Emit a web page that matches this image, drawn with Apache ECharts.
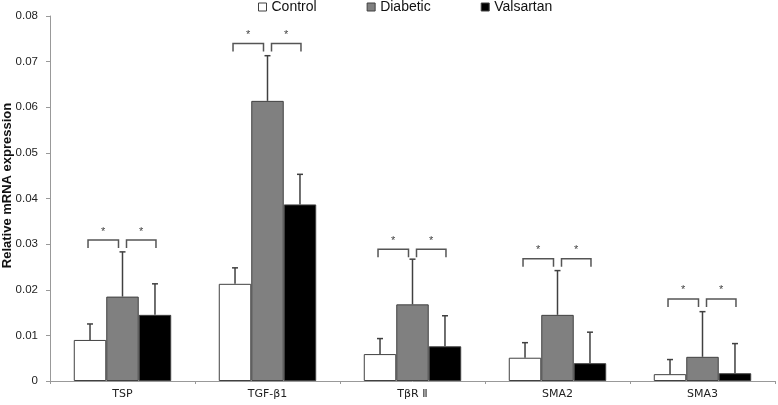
<!DOCTYPE html>
<html>
<head>
<meta charset="utf-8">
<script src="https://cdn.jsdelivr.net/npm/echarts@6/dist/echarts.min.js"></script>
<style>
  html, body { margin: 0; padding: 0; background: #fff; }
  #chart { width: 778px; height: 405px; }
</style>
</head>
<body>
<div id="chart"></div>
<script>
// 数据
const categories = ["TSP", "TGF-β1", "TβR Ⅱ", "SMA2", "SMA3"];
const groupNames = ["Control", "Diabetic", "Valsartan"];
const controlMean = [0.0090, 0.0213, 0.0059, 0.0051, 0.0015];
const controlUpper = [0.0125, 0.0248, 0.0093, 0.0084, 0.0047];
const diabeticMean = [0.0185, 0.0614, 0.0168, 0.0145, 0.0053];
const diabeticUpper = [0.0283, 0.0713, 0.0267, 0.0242, 0.0152];
const valsartanMean = [0.0145, 0.0387, 0.0076, 0.0039, 0.0017];
const valsartanUpper = [0.0213, 0.0453, 0.0143, 0.0107, 0.0082];
// 显著性括号的高度
const bracketLevel = [0.0309, 0.0740, 0.0289, 0.0268, 0.0180];

const fillColors = ["#ffffff", "#808080", "#000000"];
const edge = "#404040";
const barFrac = 0.224;

const chart = echarts.init(document.getElementById("chart"), null, { renderer: "canvas" });

const means = [controlMean, diabeticMean, valsartanMean];
const uppers = [controlUpper, diabeticUpper, valsartanUpper];

// 误差线数据: [类目, 组, 均值, 上限]
const errData = [];
for (let g = 0; g < 3; g++) {
  for (let i = 0; i < categories.length; i++) {
    errData.push([i, g, means[g][i], uppers[g][i]]);
  }
}

function barCenter(api, cat, g) {
  const c = api.coord([cat, 0])[0];
  const bw = api.size([1, 0])[0] * barFrac;
  return c + (g - 1) * bw;
}

const barSeries = groupNames.map((name, g) => ({
  name: name,
  type: "bar",
  data: means[g],
  barWidth: (barFrac * 100) + "%",
  barGap: "0%",
  itemStyle: { color: fillColors[g], borderColor: edge, borderWidth: 1 },
  z: 2
}));

const errSeries = {
  type: "custom",
  data: errData,
  z: 3,
  renderItem: function (params, api) {
    const x = barCenter(api, api.value(0), api.value(1));
    const y0 = api.coord([api.value(0), api.value(2)])[1];
    const y1 = api.coord([api.value(0), api.value(3)])[1];
    const st = { stroke: edge, lineWidth: 1.5 };
    return {
      type: "group",
      children: [
        { type: "line", shape: { x1: x, y1: y0, x2: x, y2: y1 }, style: st },
        { type: "line", shape: { x1: x - 3, y1: y1, x2: x + 3, y2: y1 }, style: st }
      ]
    };
  }
};

const bracketSeries = {
  type: "custom",
  data: bracketLevel.map((v, i) => [i, v]),
  z: 4,
  renderItem: function (params, api) {
    const cat = api.value(0);
    const y = api.coord([cat, api.value(1)])[1];
    const c0 = barCenter(api, cat, 0);
    const c1 = barCenter(api, cat, 1);
    const c2 = barCenter(api, cat, 2);
    const st = { stroke: "#555", lineWidth: 1.5, fill: null };
    const drop = 8;
    const spans = [[c0 - 2, c1 - 4], [c1 + 4, c2 + 1]];
    const kids = [];
    spans.forEach(s => {
      kids.push({
        type: "polyline",
        shape: { points: [[s[0], y + drop], [s[0], y], [s[1], y], [s[1], y + drop]] },
        style: st
      });
      kids.push({
        type: "text",
        style: {
          text: "*", x: (s[0] + s[1]) / 2, y: y - 3,
          align: "center", verticalAlign: "bottom",
          fill: "#444", font: "11px 'Liberation Sans', Arial"
        }
      });
    });
    return { type: "group", children: kids };
  }
};

chart.setOption({
  animation: false,
  backgroundColor: "#fff",
  legend: {
    data: groupNames,
    left: 258,
    top: 0,
    padding: 0,
    icon: "rect",
    itemWidth: 8,
    itemHeight: 8,
    itemGap: 50,
    itemStyle: { borderColor: edge, borderWidth: 1 },
    textStyle: { fontSize: 14, color: "#111", fontFamily: "'Liberation Sans', Arial" }
  },
  grid: { left: 50, right: 3, top: 16, bottom: 24, containLabel: false, outerBoundsMode: "none" },
  xAxis: {
    type: "category",
    data: categories,
    axisLine: { lineStyle: { color: "#999" } },
    axisTick: { show: true, length: 3, lineStyle: { color: "#999" } },
    axisLabel: { fontSize: 11, color: "#222", margin: 8, fontFamily: "'DejaVu Sans', Arial" }
  },
  yAxis: {
    type: "value",
    min: 0,
    max: 0.08,
    interval: 0.01,
    name: "Relative mRNA expression",
    nameLocation: "middle",
    nameGap: 36,
    nameMoveOverlap: false,
    nameTextStyle: {
      fontSize: 13, fontWeight: "bold", color: "#111", fontFamily: "'Liberation Sans', Arial",
      padding: [0, 0, 0, 26]
    },
    splitLine: { show: false },
    axisLine: { show: true, lineStyle: { color: "#999" } },
    axisTick: { show: true, length: 4, lineStyle: { color: "#999" } },
    axisLabel: {
      fontSize: 11.5, color: "#222", margin: 12, fontFamily: "'Liberation Sans', Arial",
      formatter: v => (v === 0 ? "0" : v.toFixed(2))
    }
  },
  series: barSeries.concat([errSeries, bracketSeries])
});
</script>
</body>
</html>
